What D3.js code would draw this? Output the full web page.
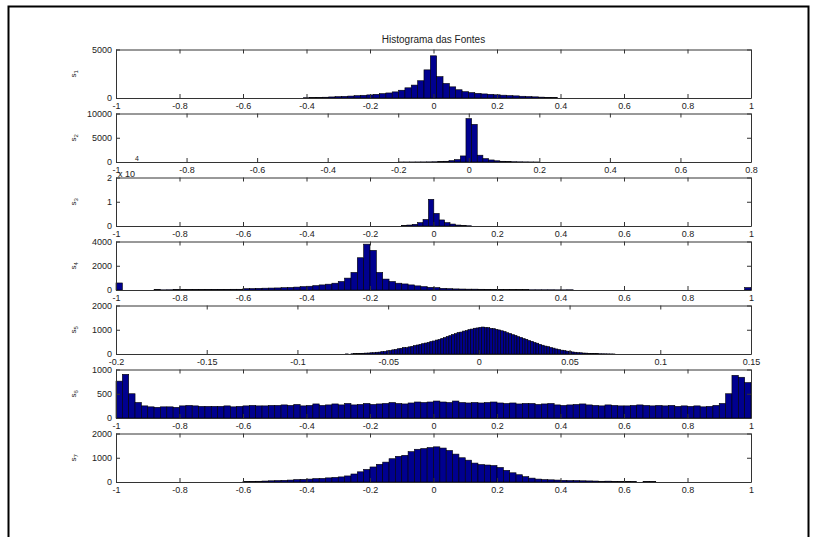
<!DOCTYPE html>
<html><head><meta charset="utf-8">
<script src="https://cdn.jsdelivr.net/npm/d3@7"></script>
<style>
body{margin:0;background:#fff;}
svg{display:block;}
text{font-family:"Liberation Sans",Arial,Helvetica,sans-serif;}
</style>
</head><body>
<svg id="chart" width="817" height="537"></svg>
<script>
// ---------------- DATA ----------------
const titleText = "Histograma das Fontes";
const seriesLabels = ["1","2","3","4","5","6","7"];   // s_i subscripts
const exponentText = ["x 10", "4"];                   // y-axis multiplier of subplot 3

// histogram bins: start of first bin and bin width per subplot
const binStarts = [-0.41, -0.2, -0.101, -1, -0.075, -1, -0.6];
const binWidths = [0.02, 0.016, 0.017, 0.02, 0.0015, 0.02, 0.02];

const s1Counts = [30,40,60,80,110,140,170,200,240,280,320,380,450,520,630,800,1050,1330,1780,2900,
  4350,2200,1500,1150,850,650,560,480,420,380,330,290,250,220,180,150,120,90,70,50];
const s2Counts = [5,8,10,15,20,30,50,80,150,280,500,1250,8950,7760,1400,700,420,250,150,90,60,40,25,15,10];
const s3Counts = [200,400,700,1400,2700,11000,5200,2500,1400,800,400,200,100];
const s4Counts = [580,0,0,0,0,0,30,15,20,30,
  40,40,45,45,50,50,55,55,60,60,
  110,120,140,150,160,170,190,210,240,280,
  310,360,420,480,560,700,980,1450,2660,3780,
  3270,1450,900,700,560,500,420,340,280,220,
  200,140,110,90,80,70,70,60,50,40,
  35,30,30,25,25,20,20,20,20,15,
  15,20,0,0,0,0,0,0,0,0,
  0,0,0,0,0,0,0,0,0,0,
  0,0,0,0,0,0,0,0,0,200];
const s5Counts = [0,5,0,10,15,18,28,30,38,42,
  52,55,72,78,98,108,132,142,172,188,
  218,236,268,262,295,318,348,372,398,428,
  452,478,515,538,575,598,645,676,722,758,
  805,838,885,905,945,966,1005,1028,1062,1075,
  1098,1112,1096,1085,1058,1046,1015,992,958,925,
  878,845,796,765,716,684,636,604,556,524,
  476,444,398,362,326,302,268,242,208,186,
  158,142,118,102,84,72,58,52,40,36,
  28,26,18,16,12,10,8,6,4,2];
const s6Counts = [760,900,500,320,250,230,220,230,230,220,
  250,260,250,240,240,240,240,250,230,240,
  250,260,250,250,260,260,270,260,280,250,
  260,290,260,270,290,270,300,270,280,300,
  280,290,300,320,300,290,310,330,320,330,
  350,330,320,350,320,310,320,310,320,330,
  310,300,310,290,300,300,280,290,300,270,
  260,270,280,290,270,260,250,270,260,250,
  250,260,270,260,250,260,250,260,240,250,
  240,250,230,240,260,300,500,880,840,730];
const s7Counts = [20,25,30,40,50,60,70,80,100,110,
  120,140,150,170,190,210,250,330,420,520,
  620,730,820,960,1060,1100,1250,1350,1380,1420,
  1450,1400,1300,1150,1000,900,780,720,700,680,
  600,480,380,300,220,160,120,100,90,80,
  70,60,60,50,45,40,30,35,25,20,
  25,15,0,20,15];
const allCounts = [s1Counts,s2Counts,s3Counts,s4Counts,s5Counts,s6Counts,s7Counts];

const xDomains = [[-1,1],[-1,0.8],[-1,1],[-1,1],[-0.2,0.15],[-1,1],[-1,1]];
const yDomains = [[0,5000],[0,10000],[0,20000],[0,4000],[0,2000],[0,1000],[0,2000]];

const xTicksStd = [-1,-0.8,-0.6,-0.4,-0.2,0,0.2,0.4,0.6,0.8,1];
const xTicksS2 = [-1,-0.8,-0.6,-0.4,-0.2,0,0.2,0.4,0.6,0.8];
const xTicksS5 = [-0.2,-0.15,-0.1,-0.05,0,0.05,0.1,0.15];
const xTickValues = [xTicksStd,xTicksS2,xTicksStd,xTicksStd,xTicksS5,xTicksStd,xTicksStd];

const yTickValues = [[0,5000],[0,5000,10000],[0,10000,20000],[0,2000,4000],[0,1000,2000],[0,500,1000],[0,1000,2000]];
const yTickDivisors = [1,1,1e4,1,1,1,1];

// ---------------- LAYOUT ----------------
const L = 116, R = 751;
const firstBottom = 98, step = 64, axH = 48.5;
const barFill = "#00008f";
const axisColor = "#333";
const fontFamily = '"Liberation Sans",Arial,Helvetica,sans-serif';

const svg = d3.select("#chart");
svg.append("rect").attr("width",817).attr("height",537).attr("fill","#fff");

for (let i = 0; i < 7; i++) {
  const bottom = firstBottom + step*i, top = bottom - axH;
  const x = d3.scaleLinear().domain(xDomains[i]).range([L, R]);
  const y = d3.scaleLinear().domain(yDomains[i]).range([bottom, top]);
  const g = svg.append("g");

  g.append("rect").attr("x",L).attr("y",top).attr("width",R-L).attr("height",bottom-top).attr("fill","#fff");

  const bins = allCounts[i].map((c,k) => ({
    x0: binStarts[i] + k*binWidths[i],
    x1: binStarts[i] + (k+1)*binWidths[i],
    c: c
  })).filter(d => d.c > 0);

  g.append("g").selectAll("rect").data(bins).join("rect")
    .attr("x", d => x(d.x0))
    .attr("width", d => x(d.x1) - x(d.x0))
    .attr("y", d => y(d.c))
    .attr("height", d => Math.max(0.3, y(0) - y(d.c)))
    .attr("fill", barFill)
    .attr("stroke", "#000")
    .attr("stroke-width", 0.6);

  const fmtX = d => String(d);
  const div = yTickDivisors[i];
  const fmtY = d => String(d/div);

  const axB = g.append("g").attr("transform", `translate(0,${bottom})`)
    .call(d3.axisBottom(x).tickValues(xTickValues[i]).tickFormat(fmtX).tickSizeInner(-4).tickSizeOuter(0).tickPadding(5));
  const axT = g.append("g").attr("transform", `translate(0,${top})`)
    .call(d3.axisTop(x).tickValues(xTickValues[i]).tickFormat("").tickSizeInner(-4).tickSizeOuter(0));
  const axL = g.append("g").attr("transform", `translate(${L},0)`)
    .call(d3.axisLeft(y).tickValues(yTickValues[i]).tickFormat(fmtY).tickSizeInner(-4).tickSizeOuter(0).tickPadding(4));
  const axR = g.append("g").attr("transform", `translate(${R},0)`)
    .call(d3.axisRight(y).tickValues(yTickValues[i]).tickFormat("").tickSizeInner(-4).tickSizeOuter(0));
  [axB, axT, axL, axR].forEach(a => {
    a.attr("font-size", 9).attr("font-family", fontFamily);
    a.selectAll("path.domain").attr("stroke", axisColor);
    a.selectAll(".tick line").attr("stroke", axisColor);
    a.selectAll(".tick text").attr("fill", "#222");
  });

  // y label s_i
  const lab = g.append("text")
    .attr("transform", `translate(76,${(top+bottom)/2}) rotate(-90)`)
    .attr("text-anchor", "middle")
    .attr("font-size", 8)
    .attr("fill", "#222");
  lab.append("tspan").text("s");
  lab.append("tspan").attr("dy", 2).attr("font-size", 6).text(seriesLabels[i]);

  if (i === 2) {
    g.append("text").attr("x", 118).attr("y", top - 1).attr("font-size", 9).attr("fill","#222").text(exponentText[0]);
    g.append("text").attr("x", 135).attr("y", top - 17).attr("font-size", 7).attr("fill","#222").text(exponentText[1]);
  }
}

svg.append("text").attr("x", 433.5).attr("y", 43).attr("text-anchor","middle")
  .attr("font-size", 10).attr("fill","#222").text(titleText);

// figure frame
svg.append("rect").attr("x", 8.5).attr("y", 6.5).attr("width", 800).attr("height", 545)
  .attr("fill","none").attr("stroke","#000").attr("stroke-width", 2);
</script>
</body></html>
